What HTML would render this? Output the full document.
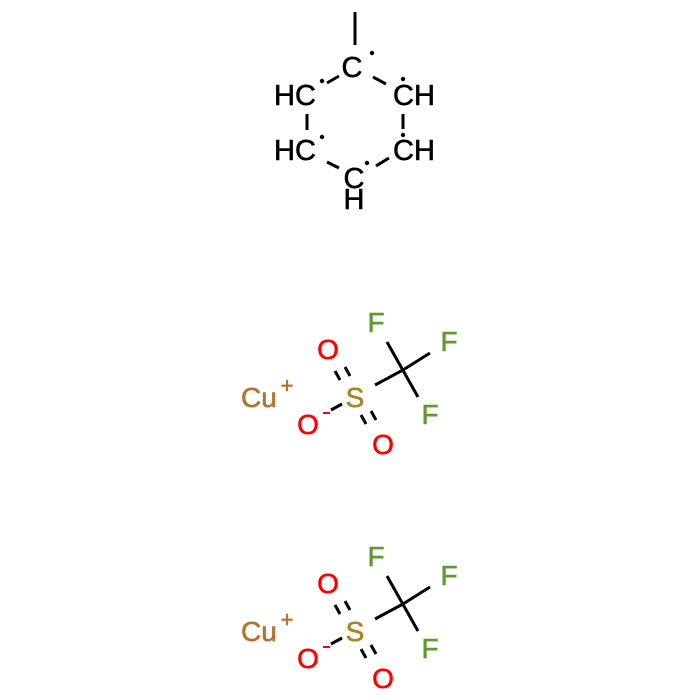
<!DOCTYPE html>
<html><head><style>
html,body{margin:0;padding:0;background:#fff;}
svg{display:block;}
text{font-family:"Liberation Sans",sans-serif;stroke-width:0.6;}
</style></head><body>
<svg width="700" height="700" viewBox="0 0 700 700" xmlns="http://www.w3.org/2000/svg">
<g stroke="#000" stroke-width="3" stroke-linecap="butt">
<line x1="355" y1="12" x2="355" y2="45"/>
<line x1="327" y1="83" x2="339" y2="76"/>
<line x1="373" y1="77" x2="386" y2="84"/>
<line x1="307" y1="114" x2="307" y2="130"/>
<line x1="403" y1="114" x2="403" y2="129"/>
<line x1="327" y1="162" x2="339" y2="168"/>
<line x1="376" y1="166" x2="389" y2="158"/>
</g>
<g fill="#000">
<circle cx="372" cy="53" r="2.2"/>
<circle cx="322" cy="81" r="2.2"/>
<circle cx="403" cy="79" r="2.2"/>
<circle cx="322" cy="137" r="2.2"/>
<circle cx="403" cy="135" r="2.2"/>
<circle cx="367" cy="163" r="2.2"/>
</g>
<g font-size="29" fill="#000" stroke="#000">
<text x="352" y="77" text-anchor="middle">C</text>
<text x="274" y="105">HC</text>
<text x="393" y="105">CH</text>
<text x="274" y="160">HC</text>
<text x="393" y="160">CH</text>
<text x="354" y="188" text-anchor="middle">C</text>
<text x="354" y="209" text-anchor="middle">H</text>
</g>
<g id="tf">
<g stroke="#000" stroke-width="3">
<line x1="387" y1="342" x2="418" y2="397"/>
<line x1="403" y1="370" x2="430" y2="353"/>
<line x1="375" y1="385" x2="403" y2="370"/>
<line x1="335" y1="371" x2="340" y2="380"/>
<line x1="345" y1="367" x2="350" y2="376"/>
<line x1="361" y1="415" x2="366" y2="424"/>
<line x1="371" y1="411" x2="376" y2="420"/>
<line x1="331" y1="410" x2="342" y2="404"/>
</g>
<g font-size="28">
<text x="241" y="407" fill="#b5722a" stroke="#b5722a">Cu</text>
<text x="287" y="393" font-size="22" fill="#b5722a" stroke="#b5722a" text-anchor="middle">+</text>
<text x="355" y="407" fill="#a88523" stroke="#a88523" text-anchor="middle">S</text>
<text x="328" y="359" fill="#ff0000" stroke="#ff0000" text-anchor="middle">O</text>
<text x="308" y="434" fill="#ff0000" stroke="#ff0000" text-anchor="middle">O</text>
<text x="383" y="454" fill="#ff0000" stroke="#ff0000" text-anchor="middle">O</text>
<text x="376" y="332" fill="#5e9a2e" stroke="#5e9a2e" text-anchor="middle">F</text>
<text x="449" y="351" fill="#5e9a2e" stroke="#5e9a2e" text-anchor="middle">F</text>
<text x="430" y="424" fill="#5e9a2e" stroke="#5e9a2e" text-anchor="middle">F</text>
</g>
<line x1="323" y1="413" x2="330" y2="413" stroke="#ff0000" stroke-width="2"/>
</g>
<use href="#tf" transform="translate(0,234)"/>
</svg>
</body></html>
